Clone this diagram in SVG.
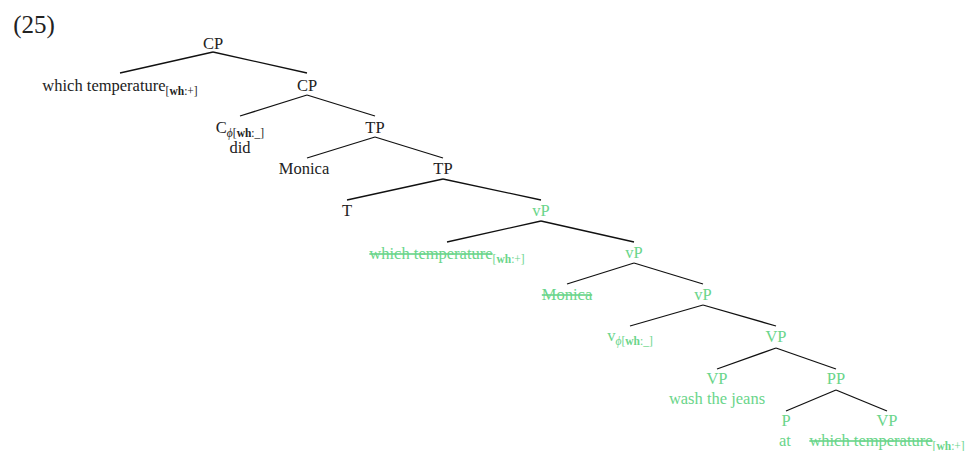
<svg xmlns="http://www.w3.org/2000/svg" width="967" height="451" viewBox="0 0 967 451">
<style>
text{font-family:"Liberation Serif","Times New Roman",serif;font-size:16.5px;fill:#222;text-anchor:middle}
.g text,text.g{fill:#6ad58a}
.sub{font-size:11.5px}
.b{font-weight:bold}
.st{text-decoration:line-through}
#edges line{stroke:#111;stroke-width:1.3}
</style>
<rect width="967" height="451" fill="#fff"/>
<text x="34" y="33" style="font-size:25px">(25)</text>
<g id="edges">
<line x1="213" y1="52" x2="120" y2="73"/>
<line x1="213" y1="52" x2="307" y2="73"/>
<line x1="307" y1="95" x2="240" y2="116"/>
<line x1="307" y1="95" x2="375" y2="116"/>
<line x1="375" y1="137" x2="307" y2="158"/>
<line x1="375" y1="137" x2="443" y2="158"/>
<line x1="443" y1="179" x2="347" y2="200"/>
<line x1="443" y1="179" x2="541" y2="200"/>
<line x1="541" y1="221" x2="447" y2="242"/>
<line x1="541" y1="221" x2="634" y2="242"/>
<line x1="634" y1="263" x2="567" y2="284"/>
<line x1="634" y1="263" x2="703" y2="284"/>
<line x1="703" y1="305" x2="630" y2="326"/>
<line x1="703" y1="305" x2="776" y2="326"/>
<line x1="776" y1="348" x2="717" y2="369"/>
<line x1="776" y1="348" x2="836" y2="369"/>
<line x1="836" y1="390" x2="786" y2="411"/>
<line x1="836" y1="390" x2="887" y2="411"/>
</g>
<g id="n-cp1"><text x="213" y="49">CP</text></g>
<g id="n-wh1"><text x="120" y="91">which temperature<tspan class="sub" dy="4">[<tspan class="b">wh</tspan>:+]</tspan></text></g>
<g id="n-cp2"><text x="307" y="91">CP</text></g>
<g id="n-c"><text x="240" y="133">C<tspan class="sub" dy="4"><tspan font-style="italic">ϕ</tspan>[<tspan class="b">wh</tspan>:_]</tspan></text><text x="240" y="153">did</text></g>
<g id="n-tp1"><text x="375" y="133">TP</text></g>
<g id="n-monica1"><text x="304" y="174">Monica</text></g>
<g id="n-tp2"><text x="443" y="174">TP</text></g>
<g id="n-t"><text x="347" y="216">T</text></g>
<g class="g">
<g id="n-vp1"><text x="541" y="216">vP</text></g>
<g id="n-wh2"><text x="447" y="259"><tspan class="st">which temperature</tspan><tspan class="sub" dy="4">[<tspan class="b">wh</tspan>:+]</tspan></text></g>
<g id="n-vp2"><text x="634" y="258">vP</text></g>
<g id="n-monica2"><text x="567" y="300"><tspan class="st">Monica</tspan></text></g>
<g id="n-vp3"><text x="703" y="300">vP</text></g>
<g id="n-v"><text x="630" y="341">v<tspan class="sub" dy="4"><tspan font-style="italic">ϕ</tspan>[<tspan class="b">wh</tspan>:_]</tspan></text></g>
<g id="n-VP1"><text x="776" y="342">VP</text></g>
<g id="n-VP2"><text x="717" y="384">VP</text><text x="717" y="404">wash the jeans</text></g>
<g id="n-pp"><text x="836" y="384">PP</text></g>
<g id="n-p"><text x="786" y="426">P</text><text x="785" y="446">at</text></g>
<g id="n-VP3"><text x="887" y="426">VP</text><text x="887" y="446"><tspan class="st">which temperature</tspan><tspan class="sub" dy="4">[<tspan class="b">wh</tspan>:+]</tspan></text></g>
</g>
</svg>
